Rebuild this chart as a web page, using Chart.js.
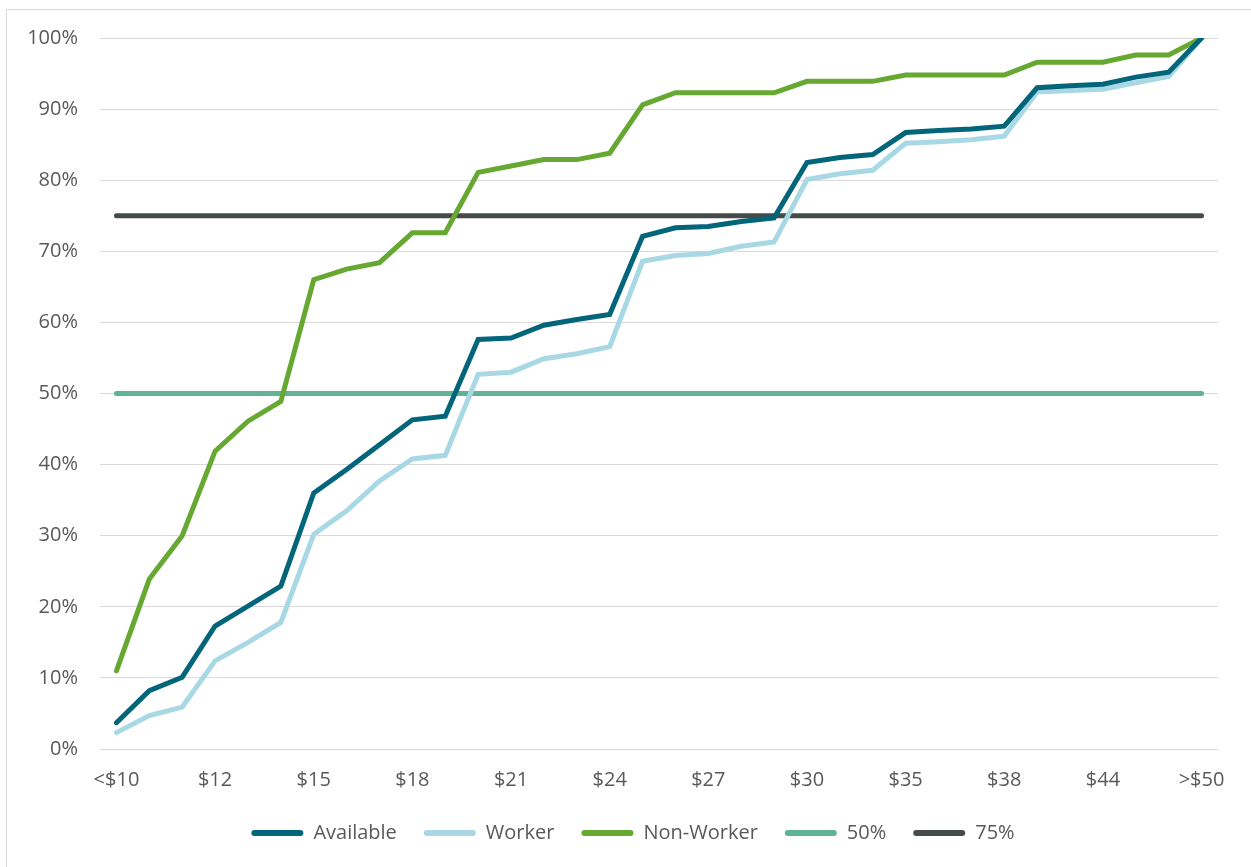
<!DOCTYPE html>
<html>
<head>
<meta charset="utf-8">
<style>
  html, body { margin: 0; padding: 0; background: #ffffff; overflow: hidden; }
  #wrap { position: relative; width: 1251px; height: 867px; overflow: hidden; }
  #frame { position: absolute; left: 6px; top: 9px; width: 1300px; height: 1000px; border: 1px solid #d9d9d9; }
  #chart { position: absolute; left: 0; top: 0; }
</style>
<script src="https://cdn.jsdelivr.net/npm/chart.js@4/dist/chart.umd.min.js"></script>
</head>
<body>
<div id="wrap"><div id="frame"></div><canvas id="chart" width="1251" height="867"></canvas></div>
<script>
// Hourly wage brackets (cumulative share of people at or below each wage)
const categories = ['<$10', '$10', '$11', '$12', '$13', '$14', '$15', '$16', '$17', '$18',
  '$19', '$20', '$21', '$22', '$23', '$24', '$25', '$26', '$27', '$28',
  '$29', '$30', '$32', '$33', '$35', '$36', '$37', '$38', '$40', '$42',
  '$44', '$45', '$48', '>$50'];

const available = [3.7, 8.2, 10.1, 17.3, 20.1, 22.9, 36.0, 39.3, 42.8, 46.3,
  46.8, 57.6, 57.8, 59.6, 60.4, 61.1, 72.1, 73.3, 73.5, 74.2,
  74.7, 82.5, 83.2, 83.6, 86.7, 87.0, 87.2, 87.6, 93.0, 93.3,
  93.5, 94.5, 95.2, 100];

const worker = [2.3, 4.7, 5.9, 12.4, 15.0, 17.8, 30.2, 33.5, 37.7, 40.8,
  41.3, 52.7, 53.0, 54.9, 55.6, 56.6, 68.6, 69.4, 69.7, 70.7,
  71.3, 80.1, 80.9, 81.4, 85.2, 85.4, 85.7, 86.2, 92.4, 92.6,
  92.8, 93.7, 94.6, 100];

const nonWorker = [11.0, 23.9, 30.0, 41.9, 46.1, 48.9, 66.0, 67.5, 68.4, 72.6,
  72.6, 81.1, 82.0, 82.9, 82.9, 83.8, 90.6, 92.3, 92.3, 92.3,
  92.3, 93.9, 93.9, 93.9, 94.8, 94.8, 94.8, 94.8, 96.6, 96.6,
  96.6, 97.6, 97.6, 100];

// Reference levels
const median50 = [50, 50, 50, 50, 50, 50, 50, 50, 50, 50,
  50, 50, 50, 50, 50, 50, 50, 50, 50, 50,
  50, 50, 50, 50, 50, 50, 50, 50, 50, 50,
  50, 50, 50, 50];
const quartile75 = [75, 75, 75, 75, 75, 75, 75, 75, 75, 75,
  75, 75, 75, 75, 75, 75, 75, 75, 75, 75,
  75, 75, 75, 75, 75, 75, 75, 75, 75, 75,
  75, 75, 75, 75];

const yTicks = [0, 10, 20, 30, 40, 50, 60, 70, 80, 90, 100];

const FONT = { family: "'Open Sans', sans-serif", size: 20 };
const TEXT = '#595959';
const GRID = '#d9d9d9';

function series(label, data, color) {
  return {
    label, data,
    borderColor: color,
    backgroundColor: color,
    borderWidth: 5,
    borderCapStyle: 'round',
    borderJoinStyle: 'miter',
    pointRadius: 0,
    pointHoverRadius: 0,
    tension: 0,
    fill: false
  };
}

// Nudge the legend row so it sits centred under the plot rather than the canvas
const legendShift = {
  id: 'legendShift',
  afterLayout(chart) {
    if (chart.legend) {
      chart.legend.left += 24;
      chart.legend.right += 24;
    }
  }
};

new Chart(document.getElementById('chart'), {
  type: 'line',
  data: {
    labels: categories,
    datasets: [
      series('Available', available, '#03657a'),
      series('Worker', worker, '#a9d8e5'),
      series('Non-Worker', nonWorker, '#67a833'),
      series('50%', median50, '#5eb495'),
      series('75%', quartile75, '#454b4b')
    ]
  },
  options: {
    responsive: false,
    animation: false,
    events: [],
    layout: { padding: { left: 0, right: 33, top: 38, bottom: 14 } },
    plugins: {
      tooltip: { enabled: false },
      legend: {
        position: 'bottom',
        align: 'center',
        labels: {
          font: FONT,
          color: TEXT,
          boxWidth: 52,
          boxHeight: 6,
          padding: 27,
          useBorderRadius: true,
          borderRadius: 3,
          generateLabels(chart) {
            const items = Chart.defaults.plugins.legend.labels.generateLabels(chart);
            items.forEach(it => { it.lineWidth = 0; });
            return items;
          }
        }
      }
    },
    scales: {
      x: {
        type: 'category',
        offset: true,
        grid: { display: false, drawTicks: false },
        border: { display: false },
        ticks: {
          autoSkip: false,
          maxRotation: 0,
          minRotation: 0,
          padding: 19,
          font: FONT,
          color: TEXT,
          callback(value, index) {
            return index % 3 === 0 ? categories[index] : '';
          }
        },
        afterFit(scale) { scale.height = 47; }
      },
      y: {
        min: 0,
        max: 100,
        grid: { color: GRID, lineWidth: 1, drawTicks: false },
        border: { display: false },
        afterBuildTicks(scale) { scale.ticks = yTicks.map(v => ({ value: v })); },
        ticks: {
          padding: 22,
          font: FONT,
          color: TEXT,
          callback(value) { return value + '%'; }
        },
        afterFit(scale) { scale.width = 100; }
      }
    }
  },
  plugins: [legendShift]
});
</script>
</body>
</html>
